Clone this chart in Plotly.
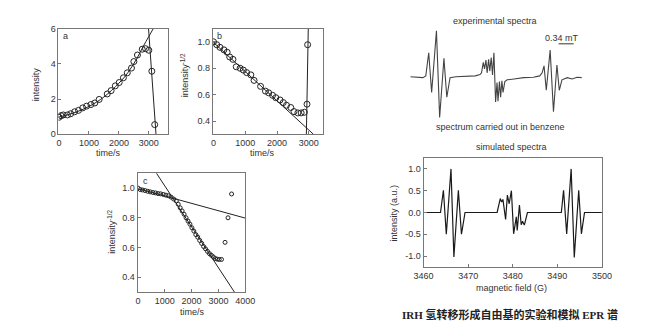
import plotly.graph_objects as go

W, H = 650, 336
FONT = "Liberation Sans, Arial, sans-serif"
TXT = "#333333"
LINE = "#222222"
FRAME = "#777777"

# ---- kinetics (a): intensity vs time ----
t_a = [0, 65, 140, 280, 390, 520, 650, 790, 920, 1065, 1195, 1340, 1610, 1740,
       1880, 2010, 2150, 2280, 2420, 2500, 2620, 2780, 2890, 3000, 3100, 3196]
i_a = [0.97, 1.06, 1.10, 1.10, 1.17, 1.28, 1.36, 1.50, 1.60, 1.69, 1.78, 1.98,
       2.29, 2.48, 2.75, 2.94, 3.21, 3.49, 3.76, 4.13, 4.50, 4.83, 4.86, 4.77,
       3.58, 0.55]
fit_a_t = [0, 500, 1000, 1500, 2000, 2300, 2600, 2800, 3000, 3150]
fit_a_i = [0.98, 1.22, 1.58, 2.12, 2.90, 3.50, 4.30, 4.95, 5.55, 6.0]
drop_a_t = [2990, 3240]
drop_a_i = [6.0, 0.0]

# ---- kinetics (b): intensity^-1/2 vs time ----
t_b = [0, 102, 204, 327, 430, 511, 613, 716, 838, 940, 1043, 1176, 1278, 1483,
       1636, 1738, 1861, 1963, 2096, 2198, 2300, 2434, 2536, 2658, 2761, 2863,
       2945, 2965]
y_b = [1.0, 0.978, 0.958, 0.939, 0.921, 0.885, 0.867, 0.811, 0.80, 0.786, 0.767,
       0.75, 0.708, 0.663, 0.627, 0.614, 0.595, 0.577, 0.56, 0.54, 0.52, 0.503,
       0.472, 0.462, 0.462, 0.467, 0.528, 0.978]
fit_b_t = [0, 3150]
fit_b_y = [0.995, 0.30]
jump_b_t = [2925, 2985]
jump_b_y = [0.30, 1.10]

# ---- kinetics (c): intensity^-1/2 vs time ----
t_c = [0, 85, 170, 267, 364, 460, 558, 655, 750, 848, 945, 1042, 1140, 1236,
       1333, 1430, 1503, 1576, 1648, 1721, 1794, 1867, 1939, 2012, 2085, 2158,
       2230, 2303, 2376, 2448, 2521, 2594, 2667, 2739, 2812, 2885, 2958, 3030,
       3115, 3248, 3358, 3491]
y_c = [1.0, 0.99, 0.987, 0.983, 0.978, 0.974, 0.97, 0.967, 0.963, 0.961, 0.957,
       0.952, 0.948, 0.939, 0.926, 0.913, 0.891, 0.867, 0.846, 0.824, 0.80,
       0.778, 0.757, 0.733, 0.711, 0.687, 0.67, 0.648, 0.628, 0.607, 0.591,
       0.574, 0.559, 0.548, 0.537, 0.526, 0.522, 0.52, 0.52, 0.635, 0.80, 0.96]
fit_c1_t = [0, 4000]
fit_c1_y = [0.996, 0.798]
fit_c2_t = [690, 3600]
fit_c2_y = [1.10, 0.30]

# ---- EPR spectra ----
exp_field = [3460.0, 3461.53, 3462.85, 3463.5, 3464.16, 3464.82, 3465.91, 3466.63,
             3467.6, 3468.25, 3468.98, 3470.29, 3472.48, 3474.67, 3475.76,
             3476.09, 3476.49, 3476.77, 3477.08, 3477.36, 3477.69, 3477.95, 3478.28,
             3478.57, 3478.89, 3479.27, 3479.59, 3479.81, 3480.14, 3480.4, 3480.69,
             3480.95, 3481.35, 3481.89, 3483.43, 3485.62, 3487.81, 3489.23,
             3489.78, 3490.21, 3490.72, 3491.59, 3492.34, 3493.12, 3493.65, 3494.26,
             3495.47, 3496.56, 3497.66, 3498.75]
exp_int = [-0.01, -0.02, -0.03, 0.01, 0.54, -0.37, 1.04, -0.94,
           0.41, -0.48, -0.03, -0.01, 0.0, 0.01, 0.04,
           0.08, 0.32, 0.17, 0.37, 0.08, 0.39, 0.12, 0.43,
           0.03, 0.54, -0.59, -0.14, -0.57, -0.12, -0.48, -0.10,
           -0.37, -0.12, -0.08, -0.06, -0.03, -0.02, 0.01,
           0.08, 0.24, -0.32, 0.60, -0.81, 0.26, -0.32, -0.08,
           -0.03, -0.06, -0.02, -0.03]

sim_field = [3460, 3463.8, 3464.45, 3465.1, 3466.15, 3466.8, 3467.8, 3468.5, 3469.3,
             3476.5, 3477.2, 3477.5, 3477.8, 3478.4, 3478.8, 3479.2, 3479.7, 3480.2,
             3480.8, 3481.0, 3481.5, 3481.9, 3482.2, 3482.6, 3483.3,
             3490.9, 3491.4, 3492.1, 3493.1, 3493.8, 3494.8, 3495.4, 3496.1, 3500]
sim_int = [0, 0, 0.51, -0.50, 1.0, -1.02, 0.51, -0.50, 0,
           0, 0.32, 0.24, 0.30, -0.16, 0.40, 0.20, 0.50, -0.49,
           -0.10, -0.41, 0.17, -0.28, -0.20, -0.29, 0,
           0, 0.51, -0.49, 1.0, -1.03, 0.51, -0.49, 0, 0]

scale_bar_mT = 0.34


def px(x0, x1):
    return [x0 / W, x1 / W]


def py(y_top, y_bot):
    return [1 - y_bot / H, 1 - y_top / H]


fig = go.Figure()


def pts(x, y, xa, ya, size):
    fig.add_trace(go.Scatter(x=x, y=y, mode="markers", xaxis=xa, yaxis=ya,
                             marker=dict(symbol="circle-open", size=size,
                                         color=LINE, line=dict(width=1, color=LINE)),
                             cliponaxis=True, showlegend=False))


def ln(x, y, xa, ya, w=1.0, color=LINE, shape="linear"):
    fig.add_trace(go.Scatter(x=x, y=y, mode="lines", xaxis=xa, yaxis=ya,
                             line=dict(width=w, color=color, shape=shape),
                             cliponaxis=True, showlegend=False))


# panel a
ln(fit_a_t, fit_a_i, "x", "y", shape="spline")
ln(drop_a_t, drop_a_i, "x", "y")
pts(t_a, i_a, "x", "y", 6)
# panel b
ln(fit_b_t, fit_b_y, "x2", "y2")
ln(jump_b_t, jump_b_y, "x2", "y2")
pts(t_b, y_b, "x2", "y2", 6)
# panel c
ln(fit_c1_t, fit_c1_y, "x3", "y3")
ln(fit_c2_t, fit_c2_y, "x3", "y3")
pts(t_c, y_c, "x3", "y3", 4)
# experimental spectrum
ln(exp_field, exp_int, "x4", "y4", w=1.1, color="#444444")
# simulated spectrum
ln(sim_field, sim_int, "x5", "y5", w=1.2, color="#1a1a1a")

tick_font = dict(family=FONT, size=9, color=TXT)


def frame_axis(domain, rng, anchor, tickvals, ticktext=None):
    return dict(domain=domain, range=rng, anchor=anchor, showline=True, mirror=True,
                linecolor=FRAME, linewidth=1, ticks="inside", ticklen=3,
                tickcolor=FRAME, tickwidth=1, showgrid=False, zeroline=False,
                tickvals=tickvals, ticktext=ticktext, tickfont=tick_font)


fig.update_layout(
    width=W, height=H, margin=dict(l=0, r=0, t=0, b=0),
    paper_bgcolor="white", plot_bgcolor="white",
    font=dict(family=FONT, size=9, color=TXT),
    xaxis=frame_axis(px(50, 163.3), [-20, 3650], "y", [0, 1000, 2000, 3000]),
    yaxis=frame_axis(py(24.3, 133.3), [0, 6], "x", [0, 2, 4, 6]),
    xaxis2=frame_axis(px(209.3, 323.3), [-20, 3460], "y2", [0, 1000, 2000, 3000]),
    yaxis2=frame_axis(py(24.3, 133.3), [0.3, 1.1], "x2", [0.4, 0.6, 0.8, 1.0],
                      ["0.4", "0.6", "0.8", "1.0"]),
    xaxis3=frame_axis(px(131.7, 242.7), [-10, 4000], "y3", [0, 1000, 2000, 3000, 4000]),
    yaxis3=frame_axis(py(173.3, 296), [0.3, 1.1], "x3", [0.4, 0.6, 0.8, 1.0],
                      ["0.4", "0.6", "0.8", "1.0"]),
    xaxis4=dict(domain=px(413, 590), range=[3460, 3498.75], anchor="y4", visible=False),
    yaxis4=dict(domain=py(17.5, 129.5), range=[-1.244, 1.244], anchor="x4", visible=False),
    xaxis5=frame_axis(px(426.7, 610.7), [3460, 3500], "y5", [3460, 3470, 3480, 3490, 3500]),
    yaxis5=frame_axis(py(157.7, 270), [-1.25, 1.25], "x5", [-1.0, -0.5, 0.0, 0.5, 1.0],
                      ["-1.0", "-0.5", "0.0", "0.5", "1.0"]),
)

# 0.34 mT scale bar (1 mT = 10 G)
bar_start = 3493.5
fig.add_shape(type="line", xref="x4", yref="y4", x0=bar_start,
              x1=bar_start + scale_bar_mT * 10, y0=0.744, y1=0.744,
              line=dict(color="#333333", width=1))


def note(text, x, y, size=9, angle=0, xanchor="center", family=FONT, color=TXT):
    fig.add_annotation(text=text, x=x / W, y=1 - y / H, xref="paper", yref="paper",
                       showarrow=False, textangle=angle, xanchor=xanchor,
                       yanchor="middle", font=dict(family=family, size=size, color=color))


# panel letters
note("a", 57.5, 31.5)
note("b", 216.5, 31.5)
note("c", 139.5, 181)
# axis titles
note("intensity", 26.5, 82, angle=-90)
note("time/s", 102, 152.5)
note("intensity<sup>-1/2</sup>", 180, 72, angle=-90)
note("time/s", 261, 152.5)
note("intensity<sup>-1/2</sup>", 105, 234, angle=-90)
note("time/s", 188, 316.5)
# spectra texts
note("experimental spectra", 500, 17)
note("0.34 mT", 570, 34.5)
note("spectrum carried out in benzene", 506, 126)
note("simulated spectra", 517, 146)
note("intensity (a.u.)", 396, 214, angle=-90)
note("magnetic field (G)", 517, 292)
note("<b>IRH 氢转移形成自由基的实验和模拟 EPR 谱</b>", 516, 319, size=11,
     family="Liberation Serif, Noto Sans CJK SC, serif", color="#222222")

fig.write_html("out.html")
